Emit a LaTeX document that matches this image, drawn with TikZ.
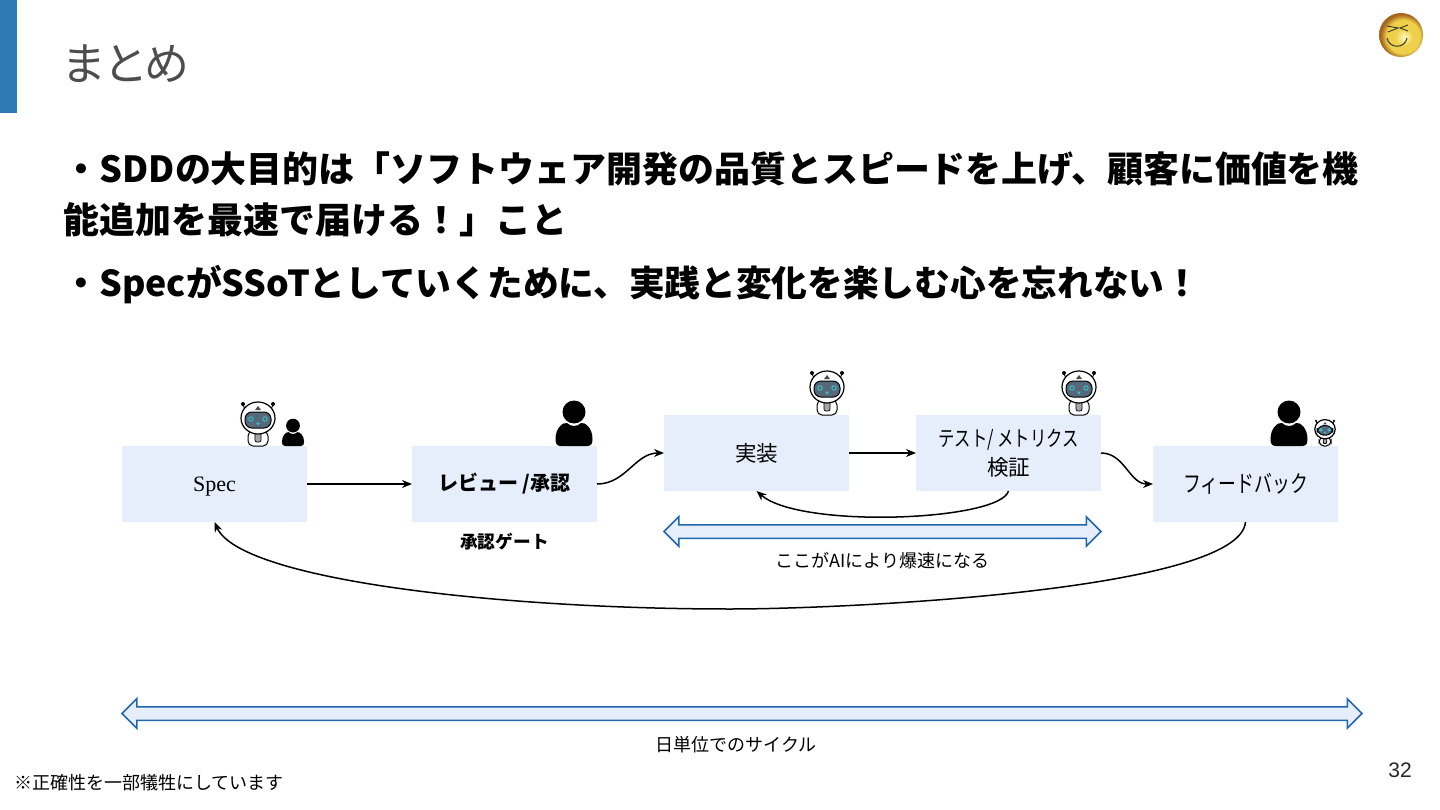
\documentclass[tikz,border=0pt]{standalone}
\usepackage{fontspec}
\setmainfont{Noto Sans CJK JP}
\newfontfamily\serifroman{Liberation Serif}
\newfontfamily\arialfont{Liberation Sans}
\newfontfamily\narrowcjk[FakeStretch=0.76]{Noto Sans CJK JP}
\newfontfamily\titlecjk[RawFeature=+palt]{Noto Sans CJK JP}
\usepackage{tikz}
\usetikzlibrary{shapes.arrows,arrows.meta,positioning}
\definecolor{boxblue}{HTML}{E6EEFC}
\definecolor{spanblue}{HTML}{1F66AE}
\definecolor{barblue}{HTML}{2E78B4}
\definecolor{titlegray}{HTML}{4D4D4D}
\definecolor{visor}{HTML}{56697A}
\definecolor{eyecyan}{HTML}{35C8D0}
\definecolor{faceyellow}{HTML}{EFD04A}
\definecolor{facerim}{HTML}{A5661F}
\pgfdeclareradialshading{faceball}{\pgfpoint{4bp}{-3bp}}{color(0bp)=(yellow!25!white); color(10bp)=(faceyellow); color(19bp)=(faceyellow); color(25bp)=(facerim); color(50bp)=(facerim)}

\begin{document}
\begin{tikzpicture}[x=1pt, y=-1pt, >={Stealth[length=10pt,width=8pt]}]
\tikzset{
  flowbox/.style={fill=boxblue, align=center, inner sep=0pt, outer sep=0pt, minimum width=185pt, minimum height=76pt},
  flowarrow/.style={->, line width=1.5pt, draw=black},
  spanarrow/.style={double arrow, draw=spanblue, fill=boxblue, line width=1.5pt, inner sep=6pt, outer sep=0pt, double arrow head extend=8pt},
  bodyline/.style={anchor=west, inner sep=0pt, font=\fontsize{35.95}{42}\selectfont\bfseries},
  caption/.style={inner sep=0pt, font=\fontsize{18}{22}\selectfont},
  pics/person/.style={code={
    \fill (0,11) circle (11.5);
    \fill (-18.5,38) .. controls (-18.5,27) and (-11,21) .. (-7,22) .. controls (-3,26) and (3,26) .. (7,22)
      .. controls (11,21) and (18.5,27) .. (18.5,38) .. controls (18.5,43) and (17,45) .. (13,45)
      -- (-13,45) .. controls (-17,45) and (-18.5,43) .. (-18.5,38) -- cycle;
  }},
  pics/robot/.style={code={
    \draw[line width=.9pt] (-15,4) -- (-12,10) (15,4) -- (12,10);
    \fill (-15,3) circle (2) (15,3) circle (2);
    \draw[fill=white, line width=1pt, rounded corners=5pt] (-10,30) rectangle (10,45);
    \draw[fill=gray!70, line width=.7pt, rounded corners=2pt] (-3,31) rectangle (3,41);
    \draw[fill=white, line width=1.2pt] (0,17) ellipse (17 and 16);
    \fill[black!70] (-3,9) -- (3,9) -- (0,5) -- cycle;
    \draw[fill=visor, line width=1pt, rounded corners=7pt] (-13,11) rectangle (13,27);
    \draw[eyecyan, line width=.9pt] (-7,18) circle (2.2) (7,18) circle (2.2);
    \fill[eyecyan] (-2,21.5) -- (2,21.5) -- (0,24.5) -- cycle;
  }},
}
\useasboundingbox (0,0) rectangle (1440,810);

% Header
\fill[barblue] (0,0) rectangle (17,113);
\node (title) [anchor=west, inner sep=0pt, text=titlegray, font=\titlecjk\fontsize{45}{50}\selectfont] at (63,64) {まとめ};
\node (pagenum) [inner sep=0pt, font=\arialfont\fontsize{21}{24}\selectfont, text=black!85] at (1400,770) {32};

% Smile badge
\shade[shading=faceball] (1401,35) circle (22);
\draw[line width=1pt, black!80] (1387,38) .. controls (1389,49) and (1405,49) .. (1407,38);
\draw[line width=.9pt, black!80] (1387,26) -- (1398,28) -- (1388,32) (1408,25) -- (1400,28) -- (1408,31);

% Message lines
\node (msgone) [bodyline] at (63.5,169) {・SDDの大目的は「ソフトウェア開発の品質とスピードを上げ、顧客に価値を機};
\node (msgtwo) [bodyline] at (63.5,220) {能追加を最速で届ける！」こと};
\node (msgthree) [bodyline, font=\fontsize{35.7}{42}\selectfont\bfseries] at (63.5,285) {・SpecがSSoTとしていくために、実践と変化を楽しむ心を忘れない！};

% Flow boxes
\node (spec) [flowbox, text depth=0pt, font=\serifroman\fontsize{22}{26}\selectfont] at (214.5,484) {Spec};
\node (review) [flowbox, right=105pt of spec, font=\fontsize{20}{26}\selectfont\bfseries] {レビュー /承認};
\node (impl) [flowbox, above right=-45pt and 67pt of review, font=\fontsize{21.5}{26}\selectfont] {実装};
\node (verify) [flowbox, right=67pt of impl, font=\fontsize{21.5}{29}\selectfont] {\narrowcjk テスト/ メトリクス\\検証};
\node (feedback) [flowbox, below right=-45pt and 52pt of verify, font=\fontsize{23.5}{26}\selectfont] {\narrowcjk フィードバック};

% Icons on the boxes
\pic[scale=1] at (258,401) {robot};
\pic[scale=.6] at (293,419) {person};
\pic at (574,401) {person};
\pic at (827,370) {robot};
\pic at (1079,370) {robot};
\pic at (1289,401) {person};
\pic[scale=.6] at (1325,419) {robot};

% Flow arrows
\draw[flowarrow] (spec) -- (review);
\draw[flowarrow] (review.east) to[out=0, in=180] (impl.west);
\draw[flowarrow] (impl) -- (verify);
\draw[flowarrow] (verify.east) to[out=0, in=180] (feedback.west);
\draw[flowarrow] (verify.south) .. controls (1000,521) and (800,529) .. (impl.south);
\draw[flowarrow] (feedback.south) .. controls (1240,590) and (850,609) .. (730,609) .. controls (500,609) and (240,580) .. (spec.south);

% Labels
\node (gate) [caption, below=11pt of review, font=\fontsize{17.7}{22}\selectfont\bfseries] {承認ゲート};

% Span arrows
\node (fastspan) [spanarrow, minimum height=437pt] at (882.5,531.5) {};
\node (fastlabel) [caption, below=14pt of fastspan] {ここがAIにより爆速になる};
\node (cyclespan) [spanarrow, minimum height=1240pt] at (742,713.5) {};
\node (cyclelabel) [caption, below=16pt of cyclespan, xshift=-6pt] {日単位でのサイクル};

% Footnote
\node (note) [anchor=west, caption] at (14,783) {※正確性を一部犠牲にしています};
\end{tikzpicture}
\end{document}
